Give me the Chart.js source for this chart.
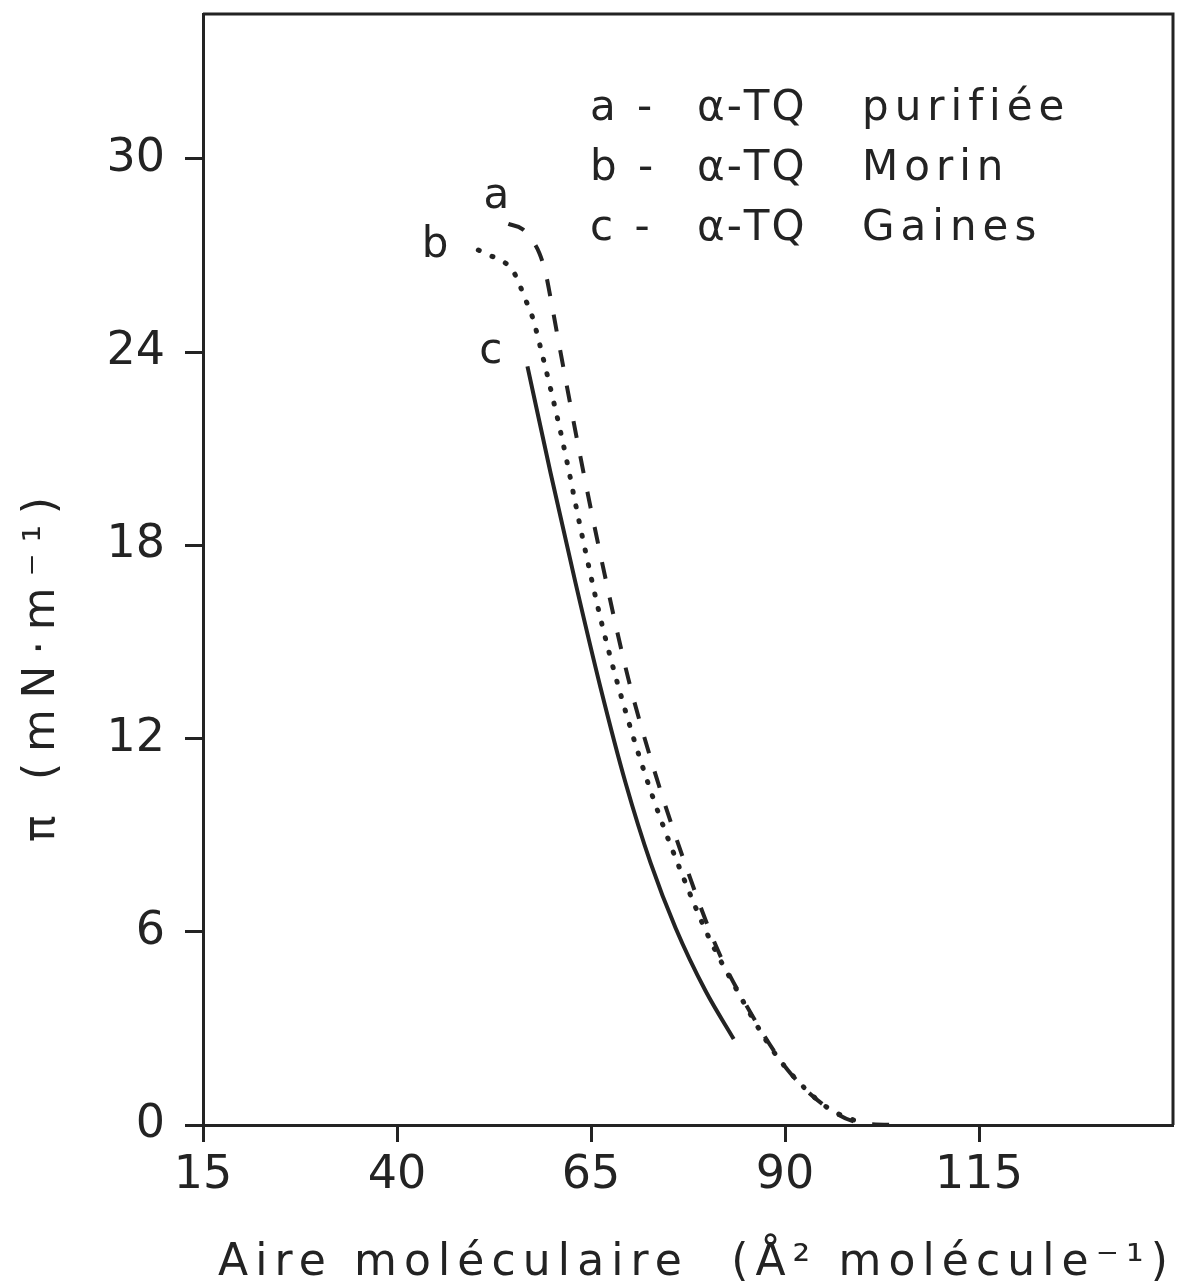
<!DOCTYPE html>
<html>
<head>
<meta charset="utf-8">
<script src="https://cdn.jsdelivr.net/npm/chart.js@4.4.0/dist/chart.umd.min.js"></script>
<style>
html, body { margin: 0; padding: 0; background: #fff; }
#wrap { width: 1177px; height: 1287px; }
</style>
</head>
<body>
<div id="wrap"><canvas id="isotherm" width="1177" height="1287"></canvas></div>
<script>
// Axis ticks
const xTicks = [15, 40, 65, 90, 115];
const yTicks = [0, 6, 12, 18, 24, 30];

// a - alpha-TQ purifiee (dashed)
const areaA = [54.35, 56.16, 57.32, 58.35, 59.13, 59.77, 60.81, 63.65, 66.48, 69.84, 73.32, 76.94, 81.32, 85.58, 90.35, 95.52, 99.77, 104.94];
const piA   = [27.98, 27.82, 27.51, 27.07, 26.48, 25.71, 24.34, 20.73, 17.41, 13.83, 10.88, 8.24, 5.44, 3.48, 1.71, 0.53, 0.06, 0];

// b - alpha-TQ Morin (dotted)
const areaB = [50.48, 51.9, 53.58, 54.87, 55.65, 56.42, 57.45, 58.61, 61.32, 63.9, 66.48, 69.58, 72.94, 76.81, 80.16, 83.77, 87.77, 90.35, 95.52, 99.77];
const piB   = [27.17, 27.01, 26.83, 26.55, 26.18, 25.71, 25.09, 24.03, 21.26, 18.25, 15.48, 12.74, 10.2, 7.74, 5.84, 4.2, 2.55, 1.71, 0.53, 0.06];

// c - alpha-TQ Gaines (solid)
const areaC = [56.81, 59.77, 62.99, 66.23, 69.45, 72.68, 75.9, 79.77, 83.39];
const piC   = [23.56, 20.27, 16.85, 13.58, 10.63, 8.14, 6.12, 4.16, 2.67];

// Curve letters and legend entries
const curveLetters = ["a", "b", "c"];
const letterAt = [[52.8, 28.8], [44.9, 27.3], [52.1, 24.0]];
const legendKeys = ["a -", "b -", "c -"];
const legendNames = ["purifiée", "Morin", "Gaines"];

const ink = "#232323";
const fontFamily = "'DejaVu Sans', sans-serif";

const toPoints = (xs, ys) => xs.map((x, i) => ({ x: x, y: ys[i] }));

// draws text spread out to a given width
function spreadText(ctx, text, x, y, width) {
  ctx.letterSpacing = "0px";
  const w = ctx.measureText(text).width;
  const n = [...text].length - 1;
  const ls = n > 0 ? Math.max(0, (width - w) / n) : 0;
  ctx.letterSpacing = ls + "px";
  ctx.fillText(text, x, y);
  ctx.letterSpacing = "0px";
}

// Frame, labels, legend and axis titles
const annotate = {
  id: "annotate",
  afterDraw(chart) {
    const { ctx, chartArea, scales } = chart;
    ctx.save();

    ctx.strokeStyle = ink;
    ctx.lineWidth = 3;
    ctx.beginPath();
    ctx.moveTo(chartArea.left, chartArea.top);
    ctx.lineTo(chartArea.right, chartArea.top);
    ctx.lineTo(chartArea.right, chartArea.bottom);
    ctx.stroke();

    ctx.fillStyle = ink;
    ctx.font = "42px " + fontFamily;
    ctx.textAlign = "center";
    ctx.textBaseline = "middle";
    curveLetters.forEach((t, i) => {
      ctx.fillText(t, scales.x.getPixelForValue(letterAt[i][0]), scales.y.getPixelForValue(letterAt[i][1]));
    });

    // legend
    ctx.textAlign = "left";
    ctx.textBaseline = "alphabetic";
    legendKeys.forEach((k, i) => {
      const y = 120 + i * 60;
      ctx.letterSpacing = "4px";
      ctx.fillText(k, 590, y);
      ctx.letterSpacing = "2px";
      ctx.fillText("α-TQ", 697, y);
      ctx.letterSpacing = "6px";
      ctx.fillText(legendNames[i], 862, y);
      ctx.letterSpacing = "0px";
    });

    // x title
    ctx.font = "44px " + fontFamily;
    spreadText(ctx, "Aire moléculaire  (Å² molécule⁻¹)", 218, 1275, 950);

    // y title
    ctx.translate(54, 842);
    ctx.rotate(-Math.PI / 2);
    spreadText(ctx, "π (mN·m⁻¹)", 0, 0, 345);

    ctx.restore();
  }
};

new Chart(document.getElementById("isotherm"), {
  type: "scatter",
  data: {
    datasets: [
      {
        label: "a- α-TQ purifiée",
        data: toPoints(areaA, piA),
        showLine: true,
        borderColor: ink,
        borderWidth: 4,
        borderDash: [17, 19],
        pointRadius: 0,
        cubicInterpolationMode: "monotone"
      },
      {
        label: "b- α-TQ Morin",
        data: toPoints(areaB, piB),
        showLine: true,
        borderColor: ink,
        borderWidth: 5,
        borderDash: [1, 14],
        borderCapStyle: "round",
        pointRadius: 0,
        cubicInterpolationMode: "monotone"
      },
      {
        label: "c- α-TQ Gaines",
        data: toPoints(areaC, piC),
        showLine: true,
        borderColor: ink,
        borderWidth: 4,
        pointRadius: 0,
        cubicInterpolationMode: "monotone"
      }
    ]
  },
  options: {
    responsive: false,
    animation: false,
    layout: { padding: { top: 14, right: 4, left: 0, bottom: 0 } },
    plugins: {
      legend: { display: false },
      tooltip: { enabled: false }
    },
    scales: {
      x: {
        type: "linear",
        min: 15,
        max: 140,
        afterBuildTicks: (axis) => { axis.ticks = xTicks.map(v => ({ value: v })); },
        afterFit: (axis) => { axis.height = 162; axis.paddingLeft = 0; axis.paddingRight = 0; },
        border: { display: true, color: ink, width: 3 },
        grid: { drawOnChartArea: false, drawTicks: true, tickLength: 17, tickWidth: 3, tickColor: ink },
        ticks: { color: ink, padding: 6, maxRotation: 0, font: { family: fontFamily, size: 46 } }
      },
      y: {
        type: "linear",
        min: 0,
        max: 34.5,
        afterBuildTicks: (axis) => { axis.ticks = yTicks.map(v => ({ value: v })); },
        afterFit: (axis) => { axis.width = 203; axis.paddingTop = 0; axis.paddingBottom = 0; },
        border: { display: true, color: ink, width: 3 },
        grid: { drawOnChartArea: false, drawTicks: true, tickLength: 18, tickWidth: 3, tickColor: ink },
        ticks: { color: ink, padding: 20, font: { family: fontFamily, size: 46 } }
      }
    }
  },
  plugins: [annotate]
});
</script>
</body>
</html>
